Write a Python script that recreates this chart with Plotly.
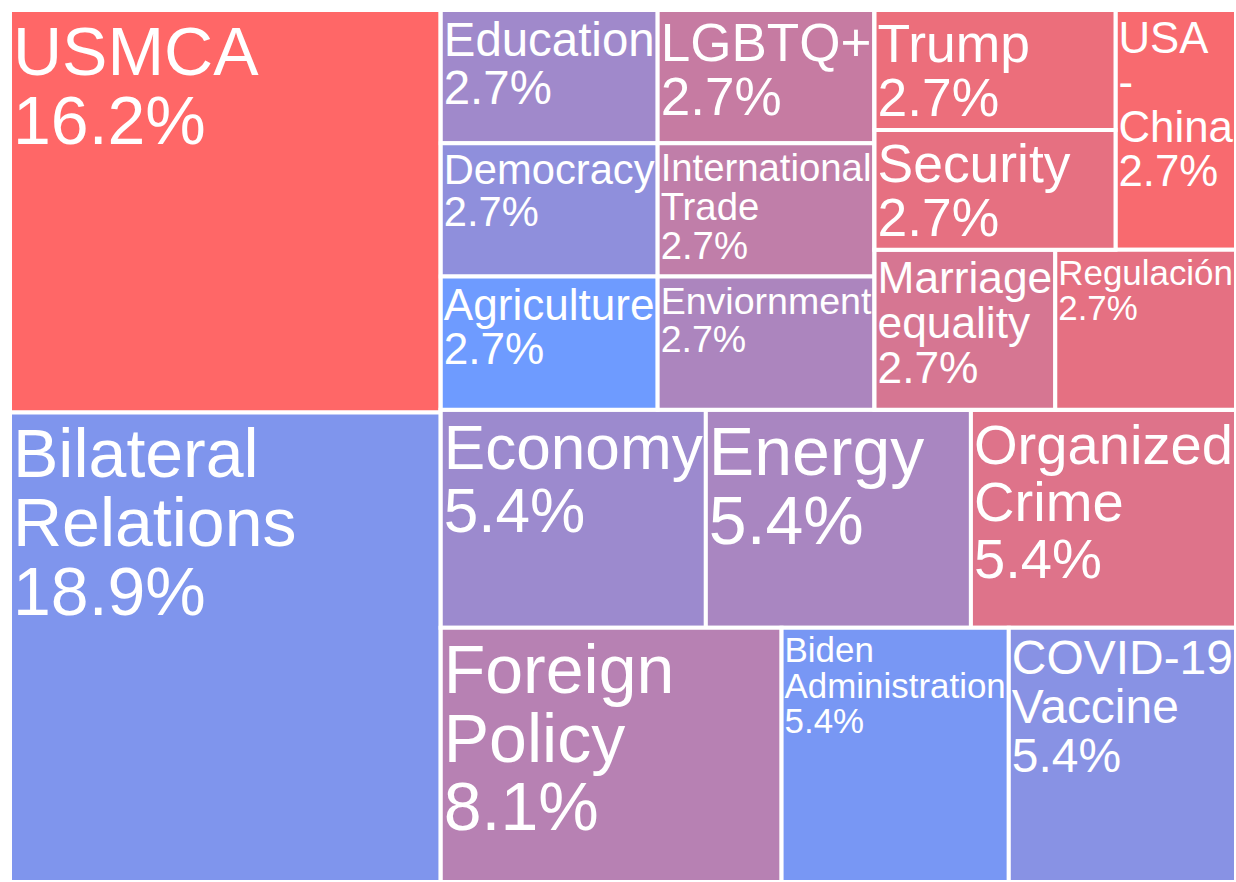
import plotly.graph_objects as go

# ---- data (topic, share count, colour score, layout block) ----
topics = [
    "USMCA", "Bilateral Relations",
    "Education", "Democracy", "Agriculture",
    "LGBTQ+", "International Trade", "Enviornment",
    "Trump", "Security", "USA - China",
    "Marriage equality", "Regulación",
    "Economy", "Energy", "Organized Crime",
    "Foreign Policy", "Biden Administration", "COVID-19 Vaccine",
]
display_lines = [
    ["USMCA"], ["Bilateral", "Relations"],
    ["Education"], ["Democracy"], ["Agriculture"],
    ["LGBTQ+"], ["International", "Trade"], ["Enviornment"],
    ["Trump"], ["Security"], ["USA", "-", "China"],
    ["Marriage", "equality"], ["Regulación"],
    ["Economy"], ["Energy"], ["Organized", "Crime"],
    ["Foreign", "Policy"], ["Biden", "Administration"], ["COVID-19", "Vaccine"],
]
counts = [6, 7,
          1, 1, 1,
          1, 1, 1,
          1, 1, 1,
          1, 1,
          2, 2, 2,
          3, 2, 2]
color_score = [1.00, 0.12,
               0.345, 0.23, 0.00,
               0.61, 0.565, 0.43,
               0.87, 0.83, 0.95,
               0.72, 0.82,
               0.32, 0.41, 0.77,
               0.50, 0.07, 0.18]
topic_block = ["left", "left",
               "c1", "c1", "c1",
               "c2", "c2", "c2",
               "trump_sec", "trump_sec", "c3_top",
               "c3_bottom", "c3_bottom",
               "middle", "middle", "middle",
               "lower", "lower", "lower"]

# invisible grouping blocks that reproduce the tile arrangement
root_label = "All topics"
blocks = ["left", "right", "upper", "middle", "lower",
          "c1", "c2", "c3", "c3_top", "c3_bottom", "trump_sec"]
block_parent = [root_label, root_label, "right", "right", "right",
                "upper", "upper", "upper", "c3", "c3", "c3_top"]

# ---- build hierarchy ----
labels = [root_label] + blocks + topics
parents = [""] + block_parent + topic_block
n_hidden = 1 + len(blocks)

def subtotal(node):
    if node in topics:
        return counts[topics.index(node)]
    kids = [l for l, p in zip(labels, parents) if p == node]
    return sum(subtotal(k) for k in kids)

values = [subtotal(l) for l in labels]

GLYPH = 68   # glyph size; base font size below sets the (tighter) line pitch
def big(s):
    return f"<span style='font-size:{GLYPH}px'>{s}</span>"

templates = [""] * n_hidden + [
    "<br>".join(big(s) for s in lines + ["%{percentRoot:.1%}"]) for lines in display_lines
]
colors = [0.5] * n_hidden + color_score

fig = go.Figure(go.Treemap(
    labels=labels,
    parents=parents,
    values=values,
    branchvalues="total",
    texttemplate=templates,
    textposition="top left",
    textfont=dict(family="Liberation Sans, Arial, sans-serif", size=53, color="white"),
    marker=dict(
        colors=colors,
        colorscale=[[0, "#6e9bff"], [1, "#ff6767"]],
        cmin=0, cmax=1,
        line=dict(color="white", width=4),
        pad=dict(t=0, l=0, r=0, b=0),
    ),
    pathbar=dict(visible=False),
    tiling=dict(packing="slice-dice", pad=0),
    sort=False,
    hoverinfo="label+value+percent root",
))

fig.update_layout(
    margin=dict(l=10, t=10, r=0, b=0),
    paper_bgcolor="white",
)

fig.write_html("out.html")
